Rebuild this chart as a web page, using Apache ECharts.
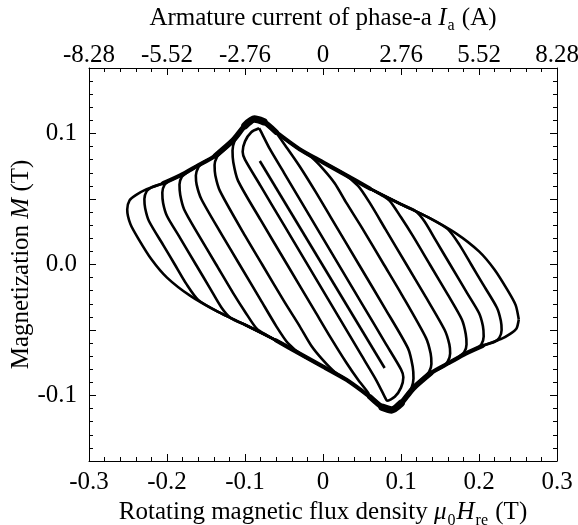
<!DOCTYPE html>
<html><head><meta charset="utf-8">
<script src="https://cdn.jsdelivr.net/npm/echarts@6/dist/echarts.min.js"></script>
<style>html,body{margin:0;padding:0;background:#fff}#c{width:578px;height:525px}</style>
</head><body><div id="c"></div>
<script>
// Bottom axis: rotating magnetic flux density (T); top axis: armature current (A)
const xTickValues = [-0.3, -0.2, -0.1, 0, 0.1, 0.2, 0.3];
const topTickLabels = ['-8.28', '-5.52', '-2.76', '0', '2.76', '5.52', '8.28'];
const yTickLabels = ['-0.1', '0.0', '0.1'];

// Outer envelope, upper branch (right tip -> peak -> left tip)
const upperEnvelope = [
  [0.251,-0.042],[0.247,-0.031],[0.237,-0.020],[0.220,-0.004],[0.200,0.010],[0.170,0.024],
  [0.135,0.036],[0.100,0.046],[0.060,0.058],[0.030,0.068],[0.000,0.078],[-0.030,0.088],
  [-0.060,0.101],[-0.076,0.109],[-0.088,0.111],[-0.100,0.106],[-0.115,0.095],[-0.138,0.083],
  [-0.162,0.075],[-0.183,0.068],[-0.205,0.062],[-0.228,0.057],[-0.240,0.053],[-0.248,0.049],
  [-0.251,0.042]
];
// Outer envelope, lower branch (left tip -> trough -> right tip)
const lowerEnvelope = [
  [-0.251,0.042],[-0.247,0.031],[-0.237,0.020],[-0.220,0.004],[-0.200,-0.010],[-0.170,-0.024],
  [-0.135,-0.036],[-0.100,-0.046],[-0.060,-0.058],[-0.030,-0.068],[0.000,-0.078],[0.030,-0.088],
  [0.060,-0.101],[0.076,-0.109],[0.088,-0.111],[0.100,-0.106],[0.115,-0.095],[0.138,-0.083],
  [0.162,-0.075],[0.183,-0.068],[0.205,-0.062],[0.228,-0.057],[0.240,-0.053],[0.248,-0.049],
  [0.251,-0.042]
];

// Minor loops: left turn (upper envelope -> down the left branch -> lower envelope)
const leftTurns = [
  [[-0.082,0.104],[-0.092,0.101],[-0.100,0.094],[-0.103,0.086],[-0.100,0.080],[-0.080,0.060],[-0.050,0.030],[0.000,-0.020],[0.050,-0.070],[0.068,-0.088],[0.080,-0.102]],
  [[-0.108,0.099],[-0.113,0.095],[-0.116,0.087],[-0.115,0.078],[-0.109,0.064],[-0.080,0.034],[-0.046,0.000],[-0.010,-0.036],[0.010,-0.056],[0.030,-0.075],[0.045,-0.088],[0.058,-0.098]],
  [[-0.130,0.086],[-0.136,0.082],[-0.139,0.076],[-0.138,0.068],[-0.132,0.056],[-0.100,0.022],[-0.078,0.000],[-0.050,-0.028],[-0.030,-0.047],[-0.015,-0.062],[0.000,-0.073],[0.015,-0.082]],
  [[-0.154,0.078],[-0.160,0.074],[-0.163,0.068],[-0.162,0.061],[-0.156,0.050],[-0.130,0.023],[-0.107,0.000],[-0.080,-0.027],[-0.060,-0.047],[-0.045,-0.060],[-0.025,-0.070]],
  [[-0.175,0.070],[-0.181,0.067],[-0.184,0.061],[-0.183,0.053],[-0.178,0.042],[-0.160,0.023],[-0.137,0.000],[-0.115,-0.022],[-0.100,-0.036],[-0.085,-0.049],[-0.072,-0.054]],
  [[-0.197,0.064],[-0.203,0.061],[-0.206,0.055],[-0.205,0.047],[-0.200,0.037],[-0.185,0.022],[-0.163,0.000],[-0.145,-0.018],[-0.130,-0.033],[-0.118,-0.041]],
  [[-0.220,0.059],[-0.226,0.056],[-0.229,0.050],[-0.228,0.043],[-0.223,0.033],[-0.205,0.015],[-0.190,0.000],[-0.175,-0.015],[-0.160,-0.027]]
];
// Minor loops: right turn (lower envelope -> up the right branch -> upper envelope)
const rightTurns = [
  [[0.082,-0.104],[0.092,-0.101],[0.100,-0.094],[0.103,-0.086],[0.100,-0.080],[0.080,-0.060],[0.050,-0.030],[0.000,0.020],[-0.050,0.070],[-0.068,0.088],[-0.080,0.102]],
  [[0.108,-0.099],[0.113,-0.095],[0.116,-0.087],[0.115,-0.078],[0.109,-0.064],[0.080,-0.034],[0.046,0.000],[0.010,0.036],[-0.010,0.056],[-0.030,0.075],[-0.045,0.088],[-0.058,0.099]],
  [[0.130,-0.086],[0.136,-0.082],[0.139,-0.076],[0.138,-0.068],[0.132,-0.056],[0.100,-0.022],[0.078,0.000],[0.050,0.028],[0.030,0.047],[0.015,0.062],[0.000,0.073],[-0.015,0.082]],
  [[0.154,-0.078],[0.160,-0.074],[0.163,-0.068],[0.162,-0.061],[0.156,-0.050],[0.130,-0.023],[0.107,0.000],[0.080,0.027],[0.060,0.047],[0.045,0.060],[0.025,0.070]],
  [[0.175,-0.070],[0.181,-0.067],[0.184,-0.061],[0.183,-0.053],[0.178,-0.042],[0.160,-0.023],[0.137,0.000],[0.115,0.022],[0.100,0.036],[0.085,0.049],[0.072,0.054]],
  [[0.197,-0.064],[0.203,-0.061],[0.206,-0.055],[0.205,-0.047],[0.200,-0.037],[0.185,-0.022],[0.163,0.000],[0.145,0.018],[0.130,0.033],[0.118,0.041]],
  [[0.220,-0.059],[0.226,-0.056],[0.229,-0.050],[0.228,-0.043],[0.223,-0.033],[0.205,-0.015],[0.190,0.000],[0.175,0.015],[0.160,0.027]]
];
// Innermost (near-zero amplitude) branch
const centreLine = [[-0.081,0.079],[0.079,-0.079]];

function buildLoop(lt, rt) {
  const a = lt[lt.length - 1][0], b = rt[0][0];
  const c = rt[rt.length - 1][0], d = lt[0][0];
  const low = lowerEnvelope.filter(p => p[0] > a && p[0] < b);
  const up = upperEnvelope.filter(p => p[0] < c && p[0] > d);
  return lt.concat(low, rt, up, [lt[0]]);
}

const loops = leftTurns.map((lt, i) => buildLoop(lt, rightTurns[i]));
loops.push(upperEnvelope.concat(lowerEnvelope.slice(1)));

// Overlapping traces make the shared envelope look like a thick band
const bandSpans = [[-0.215, 0.07, 4.2], [-0.14, -0.04, 5.5], [-0.105, -0.07, 7.5]];
const bandSeries = [];
bandSpans.forEach(([lo, hi, w]) => {
  bandSeries.push([upperEnvelope.filter(p => p[0] > lo && p[0] < hi), w]);
  bandSeries.push([lowerEnvelope.filter(p => p[0] > -hi && p[0] < -lo), w]);
});

const FONT = '"Liberation Serif", "DejaVu Serif", serif';
const mk = (d, w, cap) => ({
  type: 'line', data: d, showSymbol: false, smooth: 0.25, silent: true,
  lineStyle: { color: '#000', width: w, cap: cap || 'butt', join: 'round' }
});
const series = loops.map(d => mk(d, 2.6));
series.push(mk(centreLine, 2.6));
bandSeries.forEach(([d, w]) => series.push(mk(d, w, 'round')));

const axisLine = { show: true, onZero: false, lineStyle: { color: '#000', width: 1 } };
const tick = { show: true, inside: true, length: 7, lineStyle: { color: '#000', width: 1 } };
const minor = (n) => ({ show: true, splitNumber: n, length: 4, lineStyle: { color: '#000', width: 1 } });
const lab = { color: '#000', fontFamily: FONT, fontSize: 25 };
const rich = {
  n: { fontFamily: FONT, fontSize: 25, color: '#000' },
  i: { fontFamily: FONT, fontSize: 25, color: '#000', fontStyle: 'italic' },
  s: { fontFamily: FONT, fontSize: 16, color: '#000', padding: [16, 1, 0, 1] }
};

const option = {
  animation: false,
  backgroundColor: '#fff',
  grid: { left: 89, right: 21, top: 68, bottom: 64, containLabel: false, outerBoundsMode: 'none', show: false },
  xAxis: [
    {
      type: 'value', position: 'bottom', min: -0.3, max: 0.3, interval: 0.1,
      axisLine, axisTick: tick, minorTick: minor(5), splitLine: { show: false },
      axisLabel: Object.assign({}, lab, { margin: 9,
        formatter: v => { const i = xTickValues.findIndex(t => Math.abs(t - v) < 1e-9); return i < 0 ? '' : (xTickValues[i] === 0 ? '0' : xTickValues[i].toFixed(1)); } }),
      name: '{n|Rotating magnetic flux density }{i|μ}{s|0}{i|H}{s|re}{n| (T)}',
      nameLocation: 'middle', nameGap: 25, nameTextStyle: { rich, fontFamily: FONT, fontSize: 25, color: '#000' }
    },
    {
      type: 'value', position: 'top', min: -8.28, max: 8.28, interval: 2.76,
      axisLine, axisTick: tick, minorTick: minor(5), splitLine: { show: false },
      axisLabel: Object.assign({}, lab, { margin: 0,
        formatter: v => { const i = Math.round((v + 8.28) / 2.76); return topTickLabels[i] || ''; } }),
      name: '{n|Armature current of phase-a }{i|I}{s|a}{n| (A)}',
      nameLocation: 'middle', nameGap: 34, nameTextStyle: { rich, fontFamily: FONT, fontSize: 25, color: '#000' }
    }
  ],
  yAxis: [
    {
      type: 'value', position: 'left', min: -0.15, max: 0.15, interval: 0.05,
      axisLine, axisTick: tick, minorTick: minor(5), splitLine: { show: false },
      axisLabel: Object.assign({}, lab, { margin: 12,
        formatter: v => { const r = Math.round(v * 10); if (Math.abs(v * 10 - r) > 1e-6) return ''; return yTickLabels[r + 1] || ''; } }),
      name: '{n|Magnetization }{i|M}{n| (T)}',
      nameLocation: 'middle', nameRotate: 90, nameGap: 55, nameMoveOverlap: false,
      nameTextStyle: { rich, fontFamily: FONT, fontSize: 25, color: '#000' }
    },
    {
      type: 'value', position: 'right', min: -0.15, max: 0.15, interval: 0.05,
      axisLine, axisTick: tick, minorTick: minor(5), splitLine: { show: false },
      axisLabel: { show: false }
    }
  ],
  series
};

const chart = echarts.init(document.getElementById('c'), null, { renderer: 'canvas' });
chart.setOption(option);
</script>
</body></html>
